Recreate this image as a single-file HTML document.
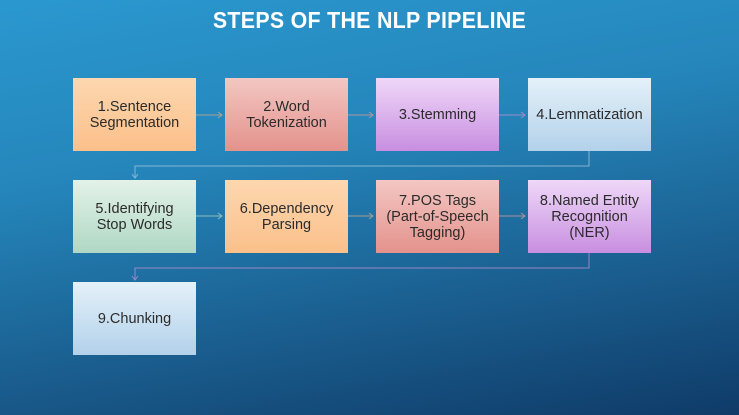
<!DOCTYPE html>
<html><head><meta charset="utf-8"><style>
body{margin:0;width:739px;height:415px;overflow:hidden;font-family:"Liberation Sans",sans-serif}
#bg{position:absolute;left:0;top:0;width:739px;height:415px;background:linear-gradient(170deg,#2a98cf 0%,#2586bb 35%,#1a5e8f 70%,#0f3b68 100%)}
#title{position:absolute;top:7px;left:0;width:739px;text-align:center;color:#fff;font-weight:bold;font-size:23px;transform:scaleX(0.93);letter-spacing:0.3px}
.box{position:absolute;width:123px;height:73px;display:flex;align-items:center;justify-content:center;text-align:center;color:#2b2b2b;font-size:14.5px;line-height:16px;box-sizing:border-box}
.c1{background:linear-gradient(#fdd7b0,#fbc08a)}
.c2{background:linear-gradient(#f3c7c3,#e4928c)}
.c3{background:linear-gradient(#efd8f8,#c88fe0)}
.c4{background:linear-gradient(#e4f1f9,#b3d1ea)}
.c5{background:linear-gradient(#e3f2e9,#b0d8c4)}
svg{position:absolute;left:0;top:0}
</style></head><body>
<div id="bg"></div>
<div id="title">STEPS OF THE NLP PIPELINE</div>
<svg width="739" height="415">
<g stroke="#c9a98a" stroke-width="1" fill="none" opacity="0.8">
<path d="M196 115H222M218 112L222 115L218 118"/>
<path d="M347 115H373M369 112L373 115L369 118" stroke="#d39a9a"/>
<path d="M498 115H525M521 112L525 115L521 118" stroke="#b98fd0"/>
<path d="M589 151V166H135V178M132 174L135 178L138 174" stroke="#9fc3df"/>
<path d="M196 216H222M218 213L222 216L218 219" stroke="#a9cdb9"/>
<path d="M347 216H373M369 213L373 216L369 219"/>
<path d="M498 216H525M521 213L525 216L521 219" stroke="#d39a9a"/>
<path d="M589 253V268H135V280M132 276L135 280L138 276" stroke="#b98fd0"/>
</g></svg>
<div class="box c1" style="left:73px;top:78px">1.Sentence<br>Segmentation</div>
<div class="box c2" style="left:225px;top:78px">2.Word<br>Tokenization</div>
<div class="box c3" style="left:376px;top:78px">3.Stemming</div>
<div class="box c4" style="left:528px;top:78px">4.Lemmatization</div>
<div class="box c5" style="left:73px;top:180px">5.Identifying<br>Stop Words</div>
<div class="box c1" style="left:225px;top:180px">6.Dependency<br>Parsing</div>
<div class="box c2" style="left:376px;top:180px">7.POS Tags<br>(Part-of-Speech<br>Tagging)</div>
<div class="box c3" style="left:528px;top:180px">8.Named Entity<br>Recognition<br>(NER)</div>
<div class="box c4" style="left:73px;top:282px">9.Chunking</div>
</body></html>
